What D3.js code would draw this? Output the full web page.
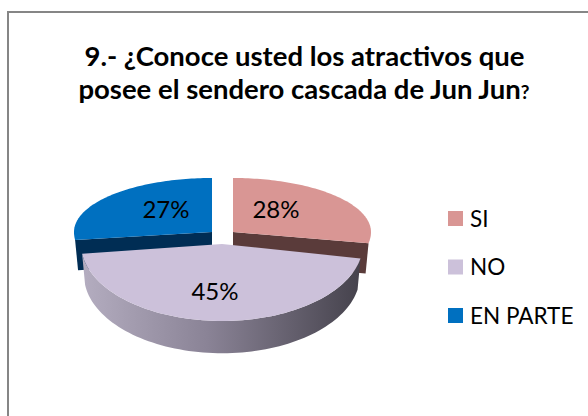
<!DOCTYPE html>
<html>
<head>
<meta charset="utf-8">
<script src="https://cdnjs.cloudflare.com/ajax/libs/d3/7.8.5/d3.min.js"></script>
<style>
  html, body { margin: 0; padding: 0; background: #fff; }
  svg { display: block; }
  text { font-family: Lato, "Open Sans", sans-serif; fill: #000; }
</style>
</head>
<body>
<div id="chart"></div>
<script>
const categories = ["SI", "NO", "EN PARTE"];
const values = [28, 45, 27];
const colors = ["#d99694", "#ccc1da", "#0070c0"];
const wallColors = ["#5a3b3a", "#8d8799", "#002d54"];

const width = 588;
const height = 416;

const svg = d3.select("#chart").append("svg").attr("width", width).attr("height", height);

// chart frame, runs off the picture on the right and bottom
svg.append("path")
  .attr("d", "M8,416V12H588")
  .attr("fill", "none")
  .attr("stroke", "#868686")
  .attr("stroke-width", 2);

const title = svg.append("text").attr("text-anchor", "middle").attr("font-weight", 700).attr("font-size", 27.5);
title.append("tspan").attr("x", 304.5).attr("y", 66).text("9.- ¿Conoce usted los atractivos que");
title.append("tspan").attr("x", 304).attr("y", 98.5).text("posee el sendero cascada de Jun Jun");
title.append("tspan").attr("font-size", 19).text("?");

const grad = svg.append("defs").append("linearGradient").attr("id", "side");
grad.append("stop").attr("offset", "0%").attr("stop-color", "#b4adc0");
grad.append("stop").attr("offset", "45%").attr("stop-color", "#8a8396");
grad.append("stop").attr("offset", "100%").attr("stop-color", "#45424c");

const slices = d3.pie().sort(null)(values);

// exploded position of every slice and the flattened pie shape
const place = [
  { cx: 233, cy: 232 },
  { cx: 222, cy: 244 },
  { cx: 212, cy: 232 }
];
const rx = [138, 141, 138];
const ryBack = 54;
const ryFront = [60, 77, 64];
const depth = [30, 31, 30];

function project(i, a, inset, drop) {
  const c = Math.cos(a);
  const ry = c > 0 ? ryBack : ryFront[i];
  return [place[i].cx + (rx[i] - inset) * Math.sin(a), place[i].cy - (ry + inset * 0.4) * c + drop];
}

function arcPoints(i, d, inset, drop) {
  return d3.range(0, 81).map((k) => project(i, d.startAngle + ((d.endAngle - d.startAngle) * k) / 80, inset, drop));
}

const line = d3.line();

function topPath(i, d) {
  return line([[place[i].cx, place[i].cy], ...arcPoints(i, d, 0, 0)]) + "Z";
}

function sidePath(i, d) {
  return line([...arcPoints(i, d, 0, 0), ...arcPoints(i, d, 3, depth[i]).reverse()]) + "Z";
}

function cutWall(i, a) {
  const p = project(i, a, 0, 0);
  const q = project(i, a, 3, depth[i]);
  const o = [place[i].cx, place[i].cy];
  return line([o, p, q, [o[0], o[1] + depth[i]]]) + "Z";
}

// back slices first, the big front slice sits over them
[2, 0].forEach((i) => {
  const d = slices[i];
  const edge = i === 0 ? d.endAngle : d.startAngle;
  svg.append("path").attr("d", cutWall(i, edge)).attr("fill", wallColors[i]);
  svg.append("path").attr("d", topPath(i, d)).attr("fill", colors[i]);
});

svg.append("path").attr("d", sidePath(1, slices[1])).attr("fill", "url(#side)");
svg.append("path").attr("d", topPath(1, slices[1])).attr("fill", colors[1]);

// data labels
const labelPos = [[276, 218], [215, 300], [166, 218]];
svg.selectAll(".val").data(slices).join("text")
  .attr("class", "val")
  .attr("text-anchor", "middle")
  .attr("font-size", 24)
  .attr("x", (d, i) => labelPos[i][0])
  .attr("y", (d, i) => labelPos[i][1])
  .text((d) => d.value + "%");

// legend
const legendY = d3.scalePoint().domain(categories).range([218.5, 315.5]);
const legend = svg.selectAll(".leg").data(categories).join("g").attr("class", "leg")
  .attr("transform", (d) => `translate(448,${legendY(d)})`);
legend.append("rect").attr("y", -7.5).attr("width", 15).attr("height", 15).attr("fill", (d, i) => colors[i]);
legend.append("text").attr("x", 22).attr("y", 8).attr("font-size", 22.5).text((d) => d);
</script>
</body>
</html>
